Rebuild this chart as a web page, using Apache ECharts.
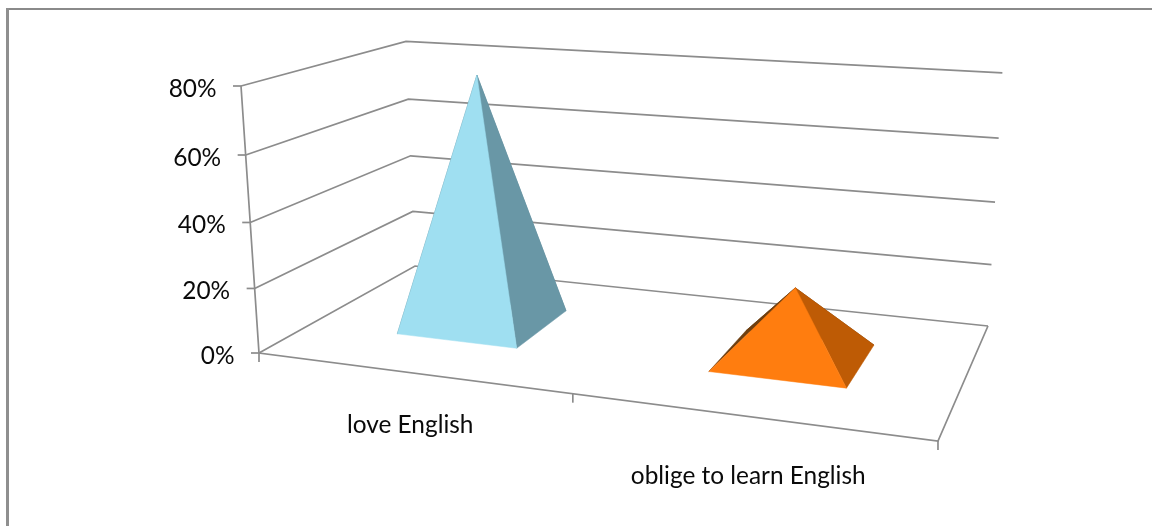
<!DOCTYPE html>
<html>
<head>
<meta charset="utf-8">
<style>html,body{margin:0;padding:0;background:#fff}#c{width:1152px;height:526px}</style>
<script src="https://cdn.jsdelivr.net/npm/echarts@6/dist/echarts.min.js"></script>
</head>
<body>
<div id="c"></div>
<script>
// ---- data ----
const categories = ['love English', 'oblige to learn English'];
const shareValues = [78.5, 21.5];
const tickValues = [0, 20, 40, 60, 80];
const tickLabels = ['0%', '20%', '40%', '60%', '80%'];

// ---- styling ----
const frontColors = ['#9FDFF1', '#FF7D0F'];
const sideColors = ['#6997A6', '#BE5B05'];
const backColors = ['#5A8794', '#6E3F10'];
const lineColor = '#8C8C8C';
const textColor = '#0A0A0A';
const fontFamily = 'Lato, "Open Sans", sans-serif';
const fontSize = 24.4;
const categoryLabelDrop = [52.5, 59.5];

// ---- the 3D view: projective camera of unit cube (u across, v deep, w up) ----
const cam = { a: 547.1, b: 237.9, c: 259, d: 26.0, e: -34.5, f: 353, g: -0.1406, h: 0.1973, i: -28.5, l: -270.75, k: -0.0436 };
function project(u, v, w) {
  const q = cam.g * u + cam.h * v + cam.k * w + 1;
  return [(cam.a * u + cam.b * v + cam.i * w + cam.c) / q, (cam.d * u + cam.e * v + cam.l * w + cam.f) / q];
}
const barHalfU = 0.1, depthNear = 0.3, depthFar = 0.695, depthMid = 0.5;

function toCube(api, params, catIndex, value) {
  const p = api.coord([catIndex, value]);
  const s = params.coordSys;
  return { u: (p[0] - s.x) / s.width, w: (s.y + s.height - p[1]) / s.height };
}

function renderGrid(params, api) {
  const t = toCube(api, params, 0, api.value(0)).w;
  const a = project(0, 0, t), b = project(0, 1, t), c = project(1, 1, t);
  const style = { stroke: lineColor, lineWidth: 1.7, fill: null };
  return { type: 'group', silent: true, children: [
    { type: 'polyline', shape: { points: [a, b, c] }, style },
    { type: 'line', shape: { x1: a[0] - 8, y1: a[1], x2: a[0], y2: a[1] }, style },
    { type: 'text', x: a[0] - 24.5, y: a[1] + 3, style: {
      text: tickLabels[params.dataIndex], fill: textColor, font: fontSize + 'px ' + fontFamily,
      textAlign: 'right', textVerticalAlign: 'middle' } }
  ] };
}

function renderCategoryAxis(params, api) {
  const i = params.dataIndex;
  const style = { stroke: lineColor, lineWidth: 1.7, fill: null };
  const mid = toCube(api, params, i, 0);
  const at = project(mid.u, 0, 0);
  const children = [{
    type: 'text', x: at[0], y: at[1] + categoryLabelDrop[i], style: {
      text: categories[i], fill: textColor, font: fontSize + 'px ' + fontFamily,
      textAlign: 'center', textVerticalAlign: 'middle' } }];
  const right = project(mid.u + 0.25, 0, 0);
  children.push({ type: 'line', shape: { x1: right[0], y1: right[1], x2: right[0], y2: right[1] + 9 }, style });
  if (i === 0) {
    const o = project(0, 0, 0), b = project(1, 0, 0), d = project(1, 1, 0), top = project(0, 0, 1);
    children.push({ type: 'polyline', shape: { points: [top, o, b, d] }, style });
    children.push({ type: 'line', shape: { x1: o[0], y1: o[1], x2: o[0], y2: o[1] + 9 }, style });
  }
  return { type: 'group', silent: true, children };
}

function renderPyramid(params, api) {
  const i = params.dataIndex;
  const c = toCube(api, params, i, api.value(1));
  const u0 = c.u - barHalfU, u1 = c.u + barHalfU;
  const fl = project(u0, depthNear, 0), fr = project(u1, depthNear, 0);
  const br = project(u1, depthFar, 0), bl = project(u0, depthFar, 0);
  const apex = project(c.u, depthMid, c.w);
  const face = (pts, color) => ({ type: 'polygon', shape: { points: pts },
    style: { fill: color, stroke: color, lineWidth: 0.5 } });
  return { type: 'group', children: [
    face([bl, br, apex], backColors[i]),
    face([fl, bl, apex], backColors[i]),
    face([fr, br, apex], sideColors[i]),
    face([fl, fr, apex], frontColors[i])
  ] };
}

const chart = echarts.init(document.getElementById('c'), null, { renderer: 'canvas' });
chart.setOption({
  animation: false,
  backgroundColor: '#ffffff',
  grid: { left: 0, right: 0, top: 0, bottom: 0 },
  xAxis: { type: 'category', data: categories, show: false },
  yAxis: { type: 'value', min: 0, max: 80, interval: 20, show: false },
  graphic: [
    { type: 'rect', silent: true, shape: { x: 6, y: 8, width: 1146, height: 2 }, style: { fill: '#8A8A8A' } },
    { type: 'rect', silent: true, shape: { x: 6, y: 8, width: 3, height: 518 }, style: { fill: '#8F8F8F' } }
  ],
  series: [
    { type: 'custom', name: 'gridlines', z: 1, data: tickValues.map(v => [v]),
      encode: { y: 0 }, renderItem: renderGrid },
    { type: 'custom', name: 'category axis', z: 2, data: categories.map((c, i) => [i]),
      encode: { x: 0 }, renderItem: renderCategoryAxis },
    { type: 'custom', name: 'share', z: 3, data: shareValues.map((v, i) => [i, v]),
      encode: { x: 0, y: 1 }, renderItem: renderPyramid }
  ]
});
</script>
</body>
</html>
